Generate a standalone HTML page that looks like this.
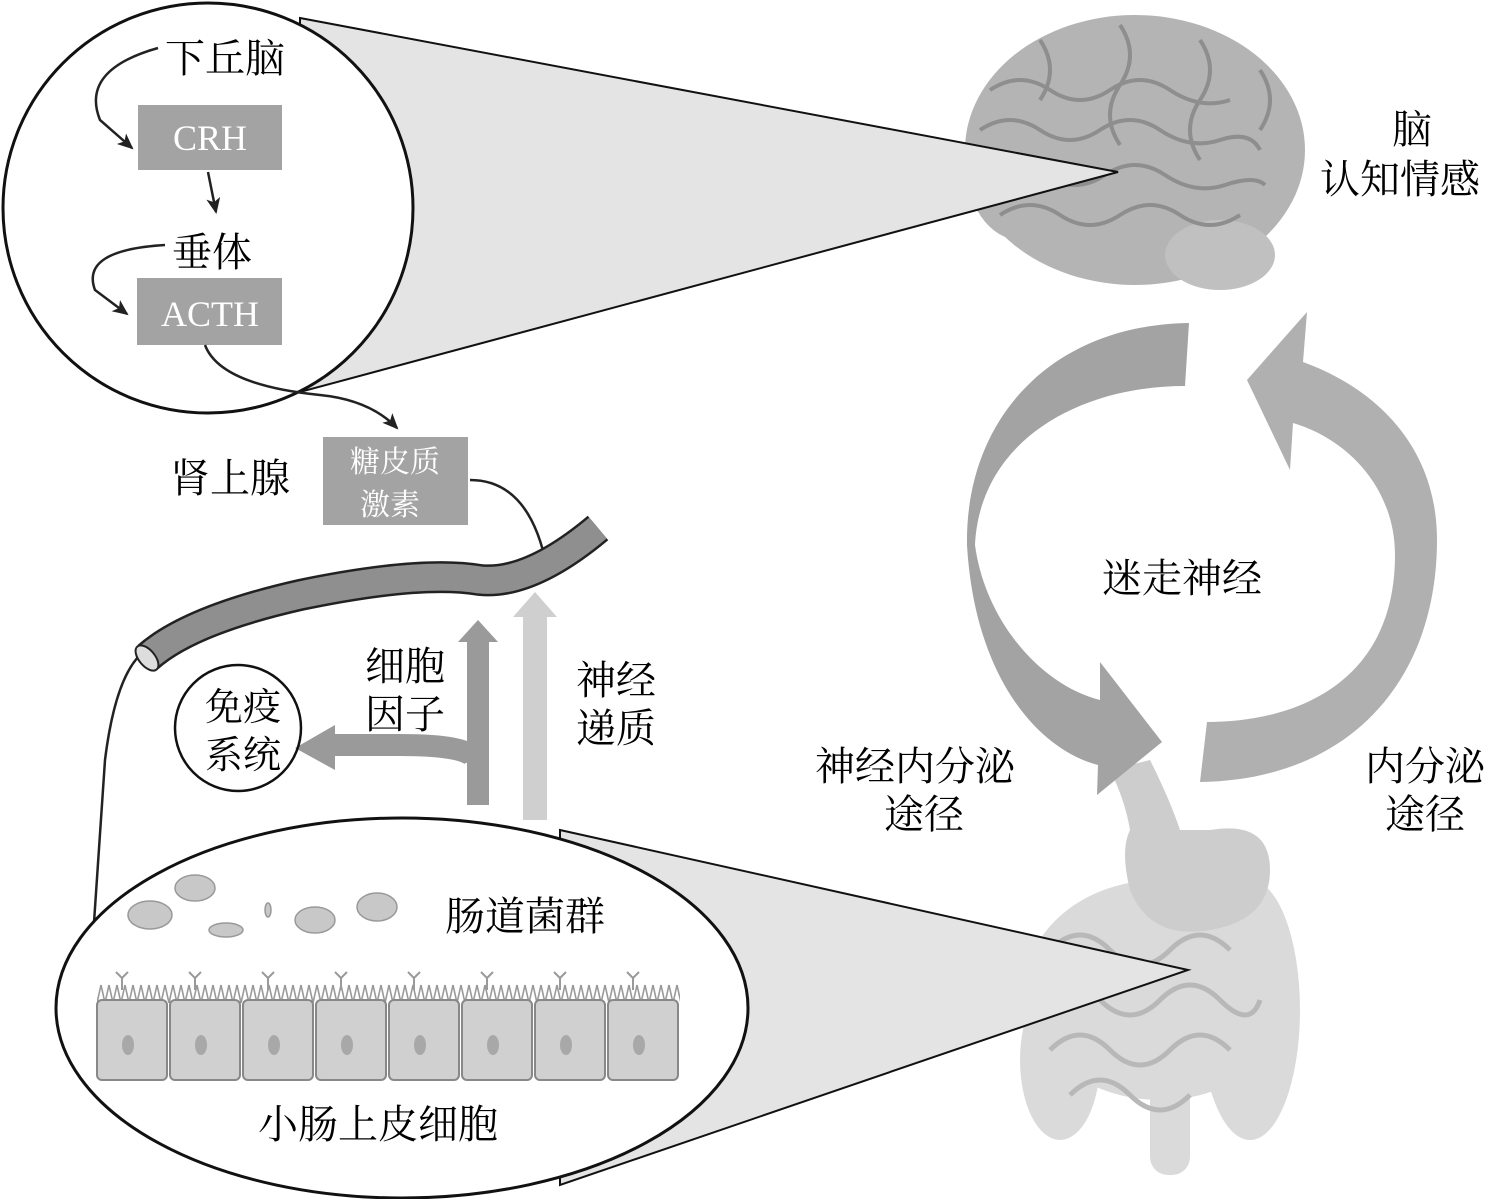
<!DOCTYPE html>
<html><head><meta charset="utf-8"><style>
html,body{margin:0;padding:0;background:#fff;}
svg{display:block;}
text{font-family:"Liberation Serif","Noto Serif CJK SC","Noto Sans CJK SC",serif;}
</style></head><body>
<svg width="1500" height="1199" viewBox="0 0 1500 1199" xmlns="http://www.w3.org/2000/svg">
<defs>
<marker id="ah" markerWidth="16" markerHeight="16" refX="14" refY="8" orient="auto" markerUnits="userSpaceOnUse">
<path d="M0,1 L16,8 L0,15 L4,8 Z" fill="#222"/></marker>
<pattern id="mv" x="97" y="983" width="8" height="20" patternUnits="userSpaceOnUse">
<path d="M0 20 L4 2 L8 20" fill="none" stroke="#999" stroke-width="1.6"/>
</pattern>
</defs>
<!-- brain -->
<g fill="#b4b4b4">
<ellipse cx="1135" cy="150" rx="170" ry="135"/>
<ellipse cx="1020" cy="160" rx="55" ry="80"/>
<ellipse cx="1220" cy="255" rx="55" ry="35" fill="#c0c0c0"/>
</g>
<g fill="none" stroke="#8e8e8e" stroke-width="4">
<path d="M990 90 q30 -20 60 0 t60 0 t60 0 t60 10"/>
<path d="M980 130 q30 -20 60 0 t60 0 t60 0 t60 10 t40 10"/>
<path d="M985 175 q30 -20 60 0 t60 0 t60 0 t60 10 t40 0"/>
<path d="M1000 215 q30 -20 60 0 t60 0 t60 0 t60 0"/>
<path d="M1040 40 q20 30 0 60 M1120 25 q20 30 0 60 t0 60 M1200 40 q20 30 0 60 t0 60 M1260 70 q20 30 0 60"/>
</g>
<!-- gut -->
<g fill="#dadada">
<ellipse cx="1160" cy="990" rx="135" ry="110"/>
<ellipse cx="1060" cy="1060" rx="40" ry="80"/>
<ellipse cx="1250" cy="1010" rx="50" ry="130"/>
<path d="M1150 760 q20 40 30 70 l30 0 q60 -10 60 40 q0 50 -60 60 q-60 10 -80 -40 q-10 -40 0 -60 q-5 -30 -20 -60 z" fill="#cdcdcd"/>
<rect x="1150" y="1080" width="40" height="95" rx="18"/>
</g>
<g fill="none" stroke="#b8b8b8" stroke-width="5">
<path d="M1050 950 q30 -30 60 0 t60 0 t60 0 M1040 1000 q30 -30 60 0 t60 0 t60 0 t40 0 M1050 1050 q30 -30 60 0 t60 0 t60 0 M1070 1095 q30 -30 60 0 t60 0"/>
</g>
<!-- cones -->
<polygon points="300,18 1118,172 300,392" fill="#e4e4e4" stroke="#111" stroke-width="2"/>
<polygon points="560,830 1188,970 560,1185" fill="#e4e4e4" stroke="#111" stroke-width="2"/>
<!-- cycle arrows -->
<path d="M1189 323 C1050 325 965 420 967 545 C975 680 1040 750 1098 765 L1097 795 L1162 742 L1100 662 L1100 700 C1040 685 985 620 975 545 C980 440 1080 386 1185 386 Z" fill="#a3a3a3"/>
<path d="M1200 782 C1350 780 1437 680 1437 540 C1437 450 1380 390 1303 362 L1307 312 L1247 380 L1290 470 L1293 423 C1350 440 1395 490 1395 555 C1395 680 1300 722 1207 722 Z" fill="#b0b0b0"/>
<!-- top circle -->
<circle cx="208" cy="208" r="205" fill="#fff" stroke="#111" stroke-width="3"/>
<text x="165" y="72" font-size="40">下丘脑</text>
<rect x="138" y="105" width="144" height="65" fill="#a3a3a3"/>
<text x="210" y="150" font-size="36" fill="#fff" text-anchor="middle">CRH</text>
<text x="172" y="266" font-size="40">垂体</text>
<rect x="137" y="278" width="145" height="67" fill="#a3a3a3"/>
<text x="210" y="326" font-size="36" fill="#fff" text-anchor="middle">ACTH</text>
<g fill="none" stroke="#222" stroke-width="2.5">
<path d="M158 48 Q80 70 100 120 L132 148" marker-end="url(#ah)"/>
<path d="M208 172 L216 212" marker-end="url(#ah)"/>
<path d="M165 245 Q80 250 95 290 L127 314" marker-end="url(#ah)"/>
<path d="M205 345 Q220 385 320 395 Q370 400 397 428" marker-end="url(#ah)"/>
<path d="M470 480 Q530 480 547 568" marker-end="url(#ah)"/>
<path d="M140 655 Q115 680 105 760 L92 952" marker-end="url(#ah)"/>
</g>
<text x="170" y="492" font-size="40">肾上腺</text>
<rect x="323" y="437" width="145" height="88" fill="#a3a3a3"/>
<text x="395" y="472" font-size="30" fill="#fff" text-anchor="middle">糖皮质</text>
<text x="390" y="515" font-size="30" fill="#fff" text-anchor="middle">激素</text>
<!-- tube -->
<path d="M148 657 Q190 620 300 595 Q420 570 480 580 Q530 585 598 528" fill="none" stroke="#222" stroke-width="32"/>
<path d="M148 657 Q190 620 300 595 Q420 570 480 580 Q530 585 598 528" fill="none" stroke="#8f8f8f" stroke-width="27"/>
<ellipse cx="147" cy="658" rx="8" ry="15" transform="rotate(-40 147 658)" fill="#ddd" stroke="#222" stroke-width="2"/>
<!-- up arrows -->
<rect x="467" y="640" width="22" height="165" fill="#9a9a9a"/>
<polygon points="458,642 478,620 498,642" fill="#9a9a9a"/>
<path d="M475 760 Q470 745 400 745 L330 745" fill="none" stroke="#9a9a9a" stroke-width="22"/>
<polygon points="335,725 295,748 335,770" fill="#9a9a9a"/>
<rect x="523" y="615" width="24" height="205" fill="#cfcfcf"/>
<polygon points="513,617 535,592 557,617" fill="#cfcfcf"/>
<circle cx="238" cy="728" r="63" fill="none" stroke="#111" stroke-width="2.5"/>
<text x="205" y="720" font-size="38">免疫</text>
<text x="205" y="768" font-size="38">系统</text>
<text x="365" y="680" font-size="40">细胞</text>
<text x="365" y="728" font-size="40">因子</text>
<text x="576" y="694" font-size="40">神经</text>
<text x="576" y="742" font-size="40">递质</text>
<!-- bottom ellipse -->
<ellipse cx="402" cy="1008" rx="346" ry="190" fill="#fff" stroke="#111" stroke-width="3"/>
<g fill="#c8c8c8" stroke="#999" stroke-width="1.5">
<ellipse cx="195" cy="888" rx="20" ry="13"/>
<ellipse cx="150" cy="915" rx="22" ry="14"/>
<ellipse cx="226" cy="930" rx="17" ry="7"/>
<ellipse cx="268" cy="910" rx="3" ry="7"/>
<ellipse cx="315" cy="920" rx="20" ry="13"/>
<ellipse cx="377" cy="907" rx="20" ry="14"/>
</g>
<text x="445" y="930" font-size="40">肠道菌群</text>
<rect x="97" y="983" width="583" height="20" fill="url(#mv)"/>
<g stroke="#888" stroke-width="2" fill="#d0d0d0">
<rect x="97" y="1000" width="70" height="80" rx="5"/>
<rect x="170" y="1000" width="70" height="80" rx="5"/>
<rect x="243" y="1000" width="70" height="80" rx="5"/>
<rect x="316" y="1000" width="70" height="80" rx="5"/>
<rect x="389" y="1000" width="70" height="80" rx="5"/>
<rect x="462" y="1000" width="70" height="80" rx="5"/>
<rect x="535" y="1000" width="70" height="80" rx="5"/>
<rect x="608" y="1000" width="70" height="80" rx="5"/>
</g>
<g fill="#a8a8a8">
<ellipse cx="128" cy="1045" rx="6" ry="10"/><ellipse cx="201" cy="1045" rx="6" ry="10"/>
<ellipse cx="274" cy="1045" rx="6" ry="10"/><ellipse cx="347" cy="1045" rx="6" ry="10"/>
<ellipse cx="420" cy="1045" rx="6" ry="10"/><ellipse cx="493" cy="1045" rx="6" ry="10"/>
<ellipse cx="566" cy="1045" rx="6" ry="10"/><ellipse cx="639" cy="1045" rx="6" ry="10"/>
</g>
<g stroke="#999" stroke-width="2" fill="none">
<path d="M122 990 v-12 l-6 -6 M122 978 l6 -6"/><path d="M195 990 v-12 l-6 -6 M195 978 l6 -6"/>
<path d="M268 990 v-12 l-6 -6 M268 978 l6 -6"/><path d="M341 990 v-12 l-6 -6 M341 978 l6 -6"/>
<path d="M414 990 v-12 l-6 -6 M414 978 l6 -6"/><path d="M487 990 v-12 l-6 -6 M487 978 l6 -6"/>
<path d="M560 990 v-12 l-6 -6 M560 978 l6 -6"/><path d="M633 990 v-12 l-6 -6 M633 978 l6 -6"/>
</g>
<text x="258" y="1138" font-size="40">小肠上皮细胞</text>
<!-- right labels -->
<text x="1392" y="143" font-size="40">脑</text>
<text x="1320" y="193" font-size="40">认知情感</text>
<text x="1102" y="592" font-size="40">迷走神经</text>
<text x="815" y="780" font-size="40">神经内分泌</text>
<text x="884" y="828" font-size="40">途径</text>
<text x="1365" y="780" font-size="40">内分泌</text>
<text x="1385" y="828" font-size="40">途径</text>
</svg>
</body></html>
